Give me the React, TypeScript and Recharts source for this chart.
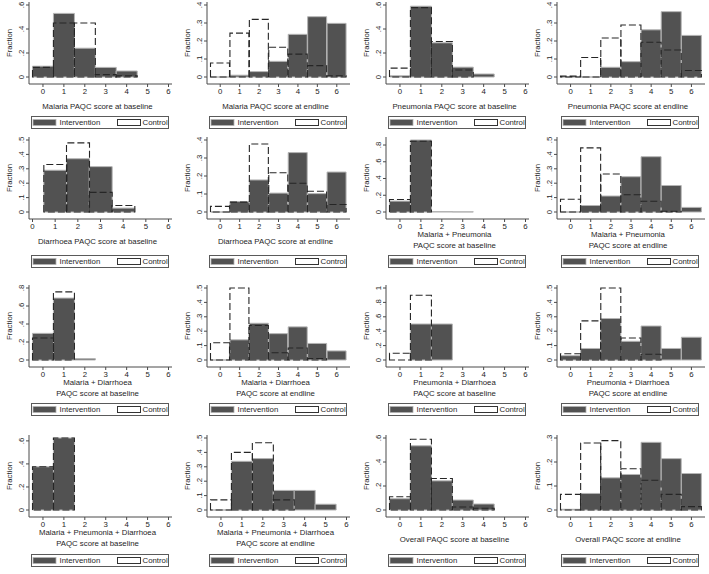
import React from 'react';
import { ComposedChart, Bar, XAxis, YAxis, Legend } from 'recharts';

// ---------- data ----------
const bins = [0, 1, 2, 3, 4, 5, 6];
const xTicks = [0, 1, 2, 3, 4, 5, 6];

const ticksTo3 = [0, 0.1, 0.2, 0.3];
const ticksTo4 = [0, 0.1, 0.2, 0.3, 0.4];
const ticksTo5 = [0, 0.1, 0.2, 0.3, 0.4, 0.5];
const ticksTo6 = [0, 0.2, 0.4, 0.6];
const ticksTo8 = [0, 0.2, 0.4, 0.6, 0.8];
const ticksTo10 = [0, 0.2, 0.4, 0.6, 0.8, 1];

const malariaBaseInt = [0.09, 0.53, 0.24, 0.08, 0.05, null, null];
const malariaBaseCtl = [0.08, 0.45, 0.45, 0.02, 0.01, null, null];
const malariaEndInt = [0, 0.01, 0.03, 0.087, 0.237, 0.335, 0.298];
const malariaEndCtl = [0.078, 0.244, 0.32, 0.165, 0.127, 0.063, 0.007];
const pneuBaseInt = [0.01, 0.59, 0.285, 0.082, 0.025, null, null];
const pneuBaseCtl = [0.074, 0.578, 0.296, 0.058, null, null, null];
const pneuEndInt = [0, 0, 0.054, 0.085, 0.262, 0.363, 0.231];
const pneuEndCtl = [0.005, 0.108, 0.217, 0.289, 0.193, 0.15, 0.036];
const diarBaseInt = [null, 0.29, 0.37, 0.315, 0.027, null, null];
const diarBaseCtl = [null, 0.33, 0.48, 0.136, 0.045, null, null];
const diarEndInt = [0, 0.058, 0.178, 0.105, 0.33, 0.102, 0.222];
const diarEndCtl = [0.031, 0.055, 0.378, 0.218, 0.16, 0.115, 0.042];
const mpBaseInt = [0.13, 0.86, 0.005, 0.002, null, null, null];
const mpBaseCtl = [0.15, 0.845, null, null, null, null, null];
const mpEndInt = [0, 0.045, 0.111, 0.245, 0.384, 0.184, 0.032];
const mpEndCtl = [0.089, 0.445, 0.264, 0.12, 0.075, 0.005, null];
const mdBaseInt = [0.296, 0.688, 0.015, null, null, null, null];
const mdBaseCtl = [0.245, 0.757, null, null, null, null, null];
const mdEndInt = [0, 0.14, 0.255, 0.183, 0.23, 0.115, 0.063];
const mdEndCtl = [0.12, 0.5, 0.24, 0.05, 0.083, 0.01, null];
const pdBaseInt = [null, 0.5, 0.5, null, null, null, null];
const pdBaseCtl = [0.094, 0.9, null, null, null, null, null];
const pdEndInt = [0.03, 0.08, 0.288, 0.13, 0.236, 0.08, 0.158];
const pdEndCtl = [0.043, 0.272, 0.5, 0.153, 0.04, null, null];
const mpdBaseInt = [0.375, 0.625, null, null, null, null, null];
const mpdBaseCtl = [0.375, 0.625, null, null, null, null, null];
const mpdEndInt = [0, 0.338, 0.357, 0.136, 0.136, 0.04, null];
const mpdEndCtl = [0.07, 0.4, 0.467, 0.07, null, null, null];
const allBaseInt = [0.094, 0.535, 0.243, 0.083, 0.05, null, null];
const allBaseCtl = [0.11, 0.59, 0.262, 0.025, 0.014, null, null];
const allEndInt = [0.003, 0.069, 0.134, 0.148, 0.282, 0.214, 0.152];
const allEndCtl = [0.065, 0.279, 0.289, 0.172, 0.124, 0.065, 0.014];

const seriesNames = ['Intervention', 'Control'];

const panels = [
  { title: ['Malaria PAQC score at baseline'], int: malariaBaseInt, ctl: malariaBaseCtl, yTicks: ticksTo6 },
  { title: ['Malaria PAQC score at endline'], int: malariaEndInt, ctl: malariaEndCtl, yTicks: ticksTo4 },
  { title: ['Pneumonia PAQC score at baseline'], int: pneuBaseInt, ctl: pneuBaseCtl, yTicks: ticksTo6 },
  { title: ['Pneumonia PAQC score at endline'], int: pneuEndInt, ctl: pneuEndCtl, yTicks: ticksTo4 },
  { title: ['Diarrhoea PAQC score at baseline'], int: diarBaseInt, ctl: diarBaseCtl, yTicks: ticksTo5 },
  { title: ['Diarrhoea PAQC score at endline'], int: diarEndInt, ctl: diarEndCtl, yTicks: ticksTo4 },
  { title: ['Malaria + Pneumonia', 'PAQC score at baseline'], int: mpBaseInt, ctl: mpBaseCtl, yTicks: ticksTo8 },
  { title: ['Malaria + Pneumonia', 'PAQC score at endline'], int: mpEndInt, ctl: mpEndCtl, yTicks: ticksTo5 },
  { title: ['Malaria + Diarrhoea', 'PAQC score at baseline'], int: mdBaseInt, ctl: mdBaseCtl, yTicks: ticksTo8 },
  { title: ['Malaria + Diarrhoea', 'PAQC score at endline'], int: mdEndInt, ctl: mdEndCtl, yTicks: ticksTo5 },
  { title: ['Pneumonia + Diarrhoea', 'PAQC score at baseline'], int: pdBaseInt, ctl: pdBaseCtl, yTicks: ticksTo10 },
  { title: ['Pneumonia + Diarrhoea', 'PAQC score at endline'], int: pdEndInt, ctl: pdEndCtl, yTicks: ticksTo5 },
  { title: ['Malaria + Pneumonia + Diarrhoea', 'PAQC score at baseline'], int: mpdBaseInt, ctl: mpdBaseCtl, yTicks: ticksTo6 },
  { title: ['Malaria + Pneumonia + Diarrhoea', 'PAQC score at endline'], int: mpdEndInt, ctl: mpdEndCtl, yTicks: ticksTo5 },
  { title: ['Overall PAQC score at baseline'], int: allBaseInt, ctl: allBaseCtl, yTicks: ticksTo6 },
  { title: ['Overall PAQC score at endline'], int: allEndInt, ctl: allEndCtl, yTicks: ticksTo3 },
];

// ---------- layout / style ----------
const FONT = '"Liberation Sans", Arial, Helvetica, sans-serif';
const FS = 7.8;
const TEXT = '#1e1e1e';
const AXIS = '#4a4a4a';
const FRAME = '#a0a0a0';
const INT_FILL = '#525252';
const INT_STROKE = '#b4b4b4';
const CTL_STROKE = '#262626';

const COL_AXIS_X = [29, 207, 386, 557];
const COL_RIGHT = [172, 350, 529, 705];
const ROW_TOP = [2, 137, 285, 435];
const PLOT_H = 82;
const LEGEND_OFF = [32, 36, 36, 37];
const Y_W = 30;
const M_TOP = 4;
const M_RIGHT = 4;
const XAXIS_H = 64;

const fmt = (v: number) => (v === 0 ? '0' : v >= 1 ? String(v) : String(v).replace(/^0/, ''));

const makeShape = (key: string) => (props: any) => {
  const { x, y, width, height, payload } = props;
  const v = payload ? payload[key] : null;
  if (v == null || !isFinite(x) || !isFinite(y) || !isFinite(width) || !isFinite(height)) return <g />;
  const yTop = Math.min(y, y + height);
  const yBase = Math.max(y, y + height);
  const x0 = x;
  const x1 = x + width;
  const d = `M${x0},${yBase} L${x0},${yTop} L${x1},${yTop} L${x1},${yBase} Z`;
  if (key === 'intervention') {
    return <path d={d} fill={INT_FILL} stroke={INT_STROKE} strokeWidth={1} />;
  }
  return <path d={d} fill="none" stroke={CTL_STROKE} strokeWidth={1.1} strokeDasharray="7 3" />;
};

const intShape = makeShape('intervention');
const ctlShape = makeShape('control');

const YTick = (props: any) => {
  const { x, y, payload } = props;
  return (
    <text
      x={x}
      y={y}
      transform={`rotate(-90 ${x} ${y})`}
      textAnchor="middle"
      fontSize={FS}
      fontFamily={FONT}
      fill={TEXT}
      style={{ fill: TEXT }}
    >
      {fmt(payload.value)}
    </text>
  );
};

const FractionLabel = (props: any) => {
  const vb = props.viewBox || {};
  const cx = (vb.x || 0) + (vb.width || 0) - 17;
  const cy = (vb.y || 0) + (vb.height || 0) / 2;
  return (
    <text
      x={cx}
      y={cy}
      transform={`rotate(-90 ${cx} ${cy})`}
      textAnchor="middle"
      fontSize={FS}
      fontFamily={FONT}
      fill={TEXT}
      style={{ fill: TEXT }}
    >
      Fraction
    </text>
  );
};

const makeTitleLabel = (lines: string[]) => (props: any) => {
  const vb = props.viewBox || {};
  const cx = (vb.x || 0) + (vb.width || 0) / 2 - 3;
  const y0 = vb.y || 0;
  const centers = lines.length === 1 ? [22] : [15, 26];
  return (
    <g>
      {lines.map((t, i) => (
        <text
          key={i}
          x={cx}
          y={y0 + centers[i] + 2.8}
          textAnchor="middle"
          fontSize={FS}
          fontFamily={FONT}
          fill={TEXT}
          style={{ fill: TEXT }}
        >
          {t}
        </text>
      ))}
    </g>
  );
};

const LegendBox = (props: any) => {
  const payload = props.payload || [];
  const nameOf = (key: string, fallback: string) => {
    const e = payload.find((p: any) => p && p.dataKey === key);
    return e && e.value ? e.value : fallback;
  };
  const n0 = nameOf('intervention', seriesNames[0]);
  const n1 = nameOf('control', seriesNames[1]);
  return (
    <svg width={139} height={13} style={{ display: 'block', overflow: 'visible' }}>
      <rect x={0.5} y={0.5} width={137} height={12} fill="#ffffff" stroke="#5a5a5a" strokeWidth={1} />
      <rect x={2} y={3.5} width={23} height={6} fill={INT_FILL} stroke={INT_STROKE} strokeWidth={0.8} />
      <text x={28.5} y={9.3} fontSize={FS} fontFamily={FONT} fill={TEXT}>{n0}</text>
      <rect x={86.5} y={3.5} width={23} height={6} fill="#ffffff" stroke="#333333" strokeWidth={1} />
      <text x={111.5} y={9.3} fontSize={FS} fontFamily={FONT} fill={TEXT}>{n1}</text>
    </svg>
  );
};

function Panel({ p, index }: { p: any; index: number }) {
  const row = Math.floor(index / 4);
  const col = index % 4;
  const axisX = COL_AXIS_X[col];
  const plotW = COL_RIGHT[col] - axisX;
  const W = Y_W + plotW + M_RIGHT;
  const H = M_TOP + PLOT_H + XAXIS_H;

  const data = bins.map((b, i) => ({ bin: b, intervention: p.int[i], control: p.ctl[i] }));

  const present = bins.filter((b, i) => p.int[i] != null || p.ctl[i] != null);
  const lo = Math.min(0, Math.min(...present) - 0.5);
  const hi = Math.max(6, Math.max(...present) + 0.5);
  const pxPerUnit = (plotW - 7) / (hi - lo);
  const xDomain = [lo - 3.5 / pxPerUnit, hi + 3.5 / pxPerUnit];

  const vals = [...p.int, ...p.ctl].filter((v: any) => v != null) as number[];
  const topVal = Math.max(p.yTicks[p.yTicks.length - 1], ...vals);
  const usable = PLOT_H - 10;
  const yDomain = [(-7 / usable) * topVal, topVal + (3 / usable) * topVal];

  const legendLeft = Y_W + plotW / 2 - 1 - 69;
  const legendTop = M_TOP + PLOT_H + LEGEND_OFF[row];

  return (
    <div style={{ position: 'absolute', left: axisX - Y_W, top: ROW_TOP[row] - M_TOP }}>
      <ComposedChart
        width={W}
        height={H}
        data={data}
        margin={{ top: M_TOP, right: M_RIGHT, bottom: 0, left: 0 }}
        barCategoryGap={0}
        barGap={0}
      >
        <XAxis
          xAxisId="a"
          dataKey="bin"
          type="number"
          domain={xDomain}
          allowDataOverflow
          ticks={xTicks}
          interval={0}
          height={XAXIS_H}
          tickSize={3}
          tickMargin={1}
          tick={{ fontSize: FS, fontFamily: FONT, fill: TEXT }}
          axisLine={{ stroke: AXIS, strokeWidth: 1 }}
          tickLine={{ stroke: AXIS, strokeWidth: 1 }}
          label={makeTitleLabel(p.title)}
        />
        <XAxis
          xAxisId="b"
          dataKey="bin"
          type="number"
          domain={xDomain}
          allowDataOverflow
          orientation="top"
          height={0}
          tick={false}
          tickLine={false}
          axisLine={{ stroke: FRAME, strokeWidth: 1 }}
        />
        <YAxis
          type="number"
          domain={yDomain}
          allowDataOverflow
          ticks={p.yTicks}
          interval={0}
          width={Y_W}
          tickSize={3}
          tickMargin={2}
          tick={<YTick />}
          axisLine={{ stroke: AXIS, strokeWidth: 1 }}
          tickLine={{ stroke: AXIS, strokeWidth: 1 }}
          label={<FractionLabel />}
        />
        <YAxis
          yAxisId="r"
          type="number"
          orientation="right"
          domain={yDomain}
          allowDataOverflow
          width={0}
          tick={false}
          tickLine={false}
          axisLine={{ stroke: FRAME, strokeWidth: 1 }}
        />
        <Bar
          xAxisId="a"
          dataKey="intervention"
          name={seriesNames[0]}
          fill={INT_FILL}
          isAnimationActive={false}
          shape={intShape}
        />
        <Bar
          xAxisId="b"
          dataKey="control"
          name={seriesNames[1]}
          fill="#ffffff"
          isAnimationActive={false}
          shape={ctlShape}
        />
        <Legend
          layout="horizontal"
          align="center"
          verticalAlign="middle"
          content={<LegendBox />}
          wrapperStyle={{ left: legendLeft, top: legendTop, width: 139, height: 13 }}
        />
      </ComposedChart>
    </div>
  );
}

export default function App() {
  return (
    <div
      style={{
        position: 'absolute',
        left: 0,
        top: 0,
        width: 709,
        height: 574,
        background: '#ffffff',
        overflow: 'hidden',
        fontFamily: FONT,
      }}
    >
      {panels.map((p, i) => (
        <Panel key={i} p={p} index={i} />
      ))}
    </div>
  );
}
